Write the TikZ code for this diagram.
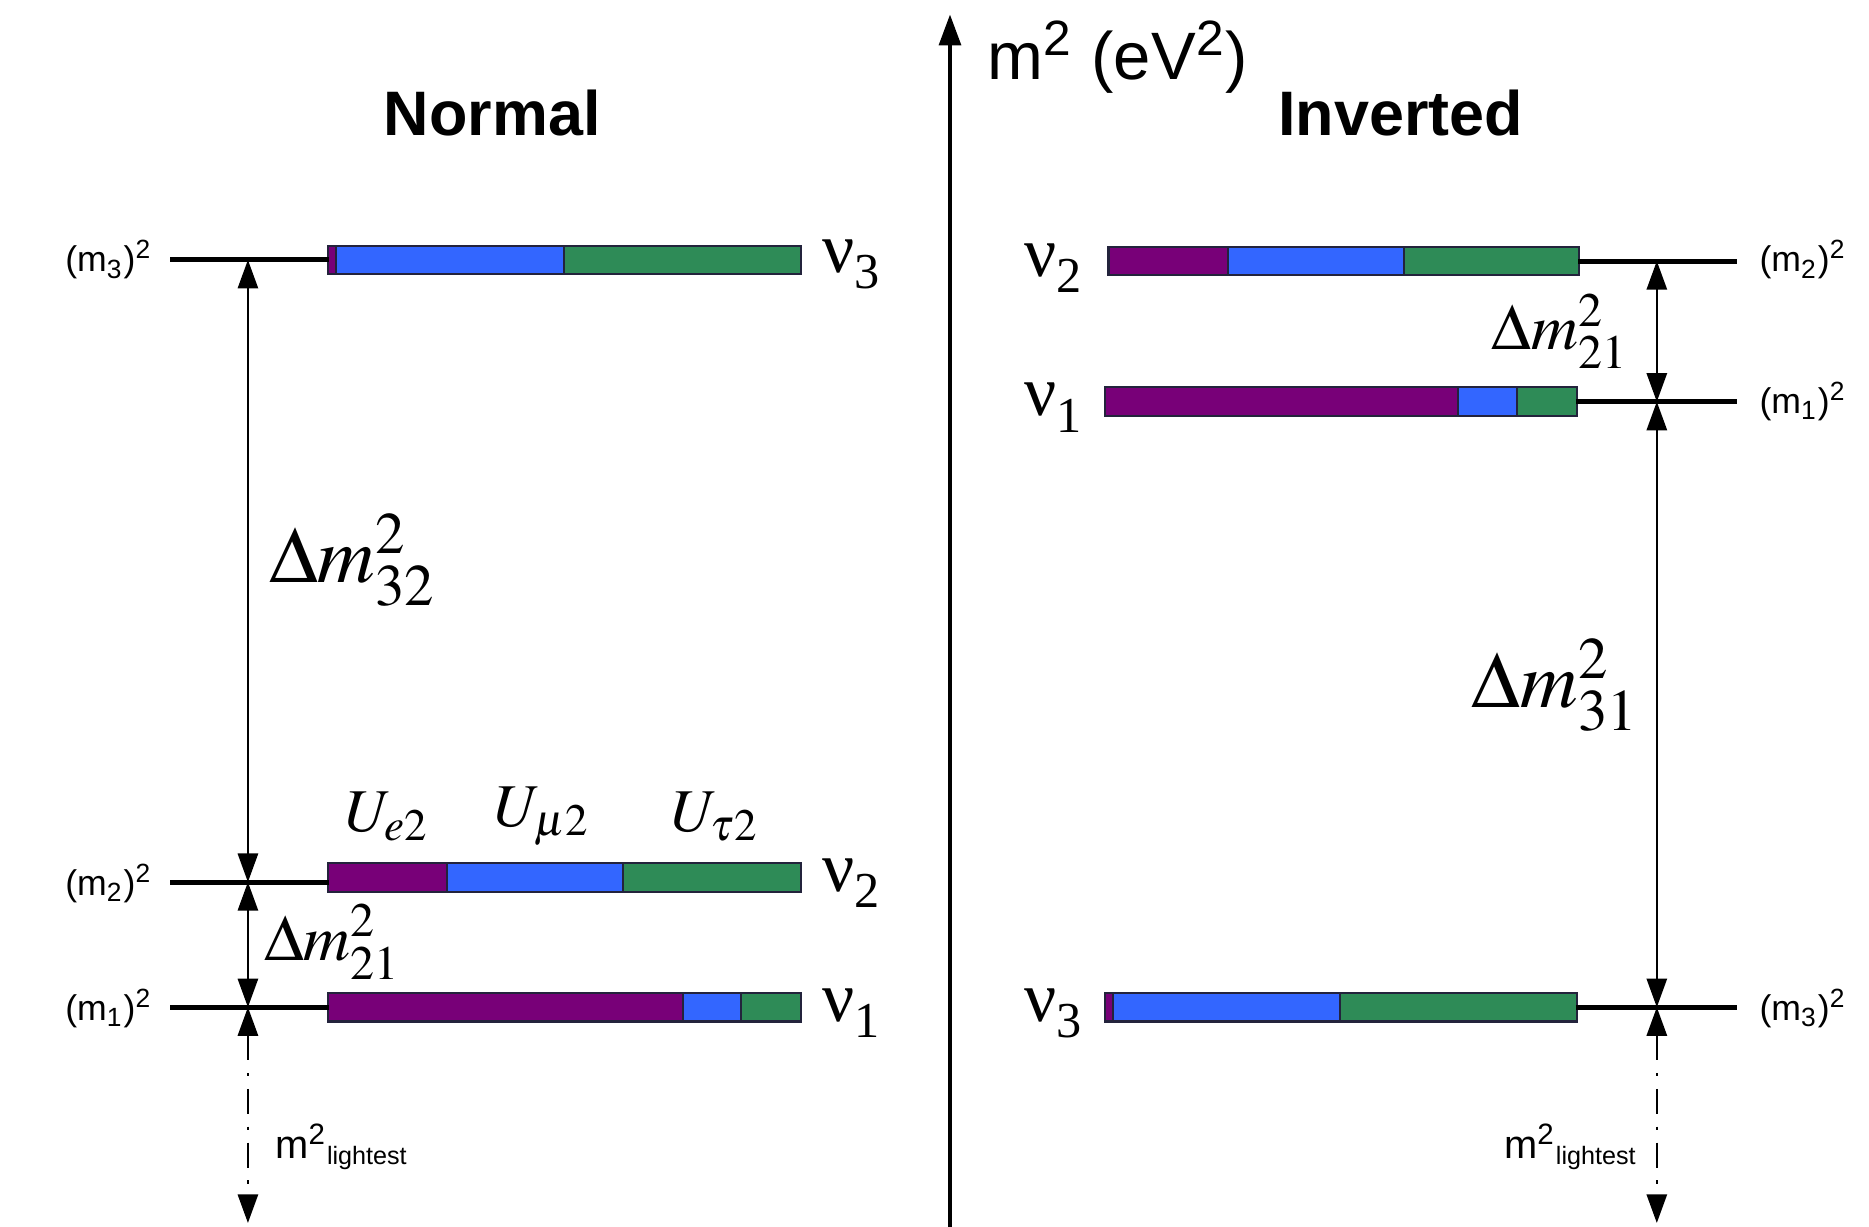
\documentclass[tikz,border=0pt]{standalone}
\usepackage{mathptmx}
\usepackage{fontspec}
\setmainfont{Liberation Serif}
\setsansfont{Liberation Sans}
\usetikzlibrary{positioning,arrows.meta,calc}
\definecolor{uec}{RGB}{120,0,120}
\definecolor{umuc}{RGB}{51,102,255}
\definecolor{utauc}{RGB}{46,139,87}
\definecolor{edgec}{RGB}{35,35,60}
\tikzset{
  level/.style    = {line width=1.2pt},
  gap/.style      = {{Triangle[length=2.4mm,width=1.7mm]}-{Triangle[length=2.4mm,width=1.7mm]}, line width=0.5pt},
  lightest/.style = {gap, dash pattern=on 6pt off 3pt on 0.8pt off 3pt},
  axis/.style     = {-{Triangle[length=2.6mm,width=1.8mm]}, line width=1.1pt},
  baredge/.style  = {draw=edgec, line width=0.5pt},
  title/.style    = {font=\sffamily\bfseries\fontsize{15}{17}\selectfont},
  mlbl/.style     = {font=\sffamily\fontsize{8.5}{10}\selectfont, inner sep=1pt},
  lightlbl/.style = {font=\sffamily\fontsize{9.5}{11}\selectfont, inner sep=1pt},
  nulbl/.style    = {font=\fontsize{17}{19}\selectfont, inner sep=1pt},
  ulbl/.style     = {font=\fontsize{14.5}{16}\selectfont, inner sep=0pt},
  dbig/.style     = {font=\fontsize{19}{21}\selectfont, inner sep=0pt},
  dsmall/.style   = {font=\fontsize{15.5}{17}\selectfont, inner sep=0pt},
}
\newcommand{\nusub}[1]{\raisebox{-0.5ex}{\fontsize{12}{13}\selectfont #1}}
% bar of flavour content: y, left, e|mu, mu|tau, right
\newcommand{\flavourbar}[5]{%
  \fill[uec]   (#2,#1-12) rectangle (#3,#1+12);
  \fill[umuc]  (#3,#1-12) rectangle (#4,#1+12);
  \fill[utauc] (#4,#1-12) rectangle (#5,#1+12);
  \draw[baredge] (#2,#1-12) rectangle (#5,#1+12);
  \draw[baredge] (#3,#1-12) -- (#3,#1+12) (#4,#1-12) -- (#4,#1+12);
}

\begin{document}
\begin{tikzpicture}[x=0.01cm, y=-0.01cm]
\useasboundingbox (0,0) rectangle (1568,1029);

% --- mass axis ----------------------------------------------------------
\coordinate (axbot) at (797,1029);
\coordinate (axtop) at (797,12);
\draw[axis] (axbot) -- (axtop);
\node[font=\sffamily\fontsize{16}{18}\selectfont, anchor=west] (axlbl) at (816,48)
  {m\textsuperscript{2} (eV\textsuperscript{2})};

% --- normal ordering ----------------------------------------------------
\node[title] (normal) at (413,95) {Normal};

\coordinate (n3a) at (143,218); \coordinate (n3b) at (276,218);
\coordinate (n2a) at (143,740); \coordinate (n2b) at (276,740);
\coordinate (n1a) at (143,845); \coordinate (n1b) at (276,845);
\coordinate (nax3) at (208,218);
\coordinate (nax2) at (208,740);
\coordinate (nax1) at (208,845);
\coordinate (naxlo) at (208,1026);

\flavourbar{218}{275}{282}{473}{672}
\flavourbar{736}{275}{375}{523}{672}
\flavourbar{845}{275}{573}{622}{672}

\draw[level] (n3a) -- (n3b);
\draw[level] (n2a) -- (n2b);
\draw[level] (n1a) -- (n1b);
\draw[gap] (nax3) -- (nax2);
\draw[gap] (nax2) -- (nax1);
\draw[lightest] (nax1) -- (naxlo);

\node[mlbl, anchor=east] (nm3) at (132,218) {(m\textsubscript{3})\textsuperscript{2}};
\node[mlbl, anchor=east] (nm2) at (132,741) {(m\textsubscript{2})\textsuperscript{2}};
\node[mlbl, anchor=east] (nm1) at (132,846) {(m\textsubscript{1})\textsuperscript{2}};

\node[nulbl, anchor=west] (nnu3) at (686,222) {ν\nusub{3}};
\node[nulbl, anchor=west] (nnu2) at (686,741) {ν\nusub{2}};
\node[nulbl, anchor=west] (nnu1) at (686,850) {ν\nusub{1}};

\node[ulbl] (ue)   at (325,685) {$U_{e2}$};
\node[ulbl] (umu)  at (455,685) {$U_{\mu 2}$};
\node[ulbl] (utau) at (600,685) {$U_{\tau 2}$};

\node[dbig]   (ndm32) at (296,470) {$\Delta m^2_{32}$};
\node[dsmall] (ndm21) at (279,790) {$\Delta m^2_{21}$};
\node[lightlbl] (nlight) at (287,962) {m\textsuperscript{2}\textsubscript{\fontsize{6}{7}\selectfont lightest}};

% --- inverted ordering --------------------------------------------------
\node[title] (inverted) at (1175,95) {Inverted};

\coordinate (i2a) at (1324,219); \coordinate (i2b) at (1457,219);
\coordinate (i1a) at (1322,337); \coordinate (i1b) at (1457,337);
\coordinate (i3a) at (1322,845); \coordinate (i3b) at (1457,845);
\coordinate (iax2) at (1390,219);
\coordinate (iax1) at (1390,337);
\coordinate (iax3) at (1390,845);
\coordinate (iaxlo) at (1390,1026);

\flavourbar{219}{930}{1030}{1178}{1325}
\flavourbar{337}{927}{1223}{1273}{1323}
\flavourbar{845}{927}{934}{1124}{1323}

\draw[level] (i2a) -- (i2b);
\draw[level] (i1a) -- (i1b);
\draw[level] (i3a) -- (i3b);
\draw[gap] (iax2) -- (iax1);
\draw[gap] (iax1) -- (iax3);
\draw[lightest] (iax3) -- (iaxlo);

\node[mlbl, anchor=west] (im2) at (1472,218) {(m\textsubscript{2})\textsuperscript{2}};
\node[mlbl, anchor=west] (im1) at (1472,337) {(m\textsubscript{1})\textsuperscript{2}};
\node[mlbl, anchor=west] (im3) at (1472,846) {(m\textsubscript{3})\textsuperscript{2}};

\node[nulbl, anchor=east] (inu2) at (912,225) {ν\nusub{2}};
\node[nulbl, anchor=east] (inu1) at (912,342) {ν\nusub{1}};
\node[nulbl, anchor=east] (inu3) at (912,850) {ν\nusub{3}};

\node[dsmall] (idm21) at (1309,278) {$\Delta m^2_{21}$};
\node[dbig]   (idm31) at (1305,575) {$\Delta m^2_{31}$};
\node[lightlbl] (ilight) at (1318,962) {m\textsuperscript{2}\textsubscript{\fontsize{6}{7}\selectfont lightest}};

\end{tikzpicture}
\end{document}
